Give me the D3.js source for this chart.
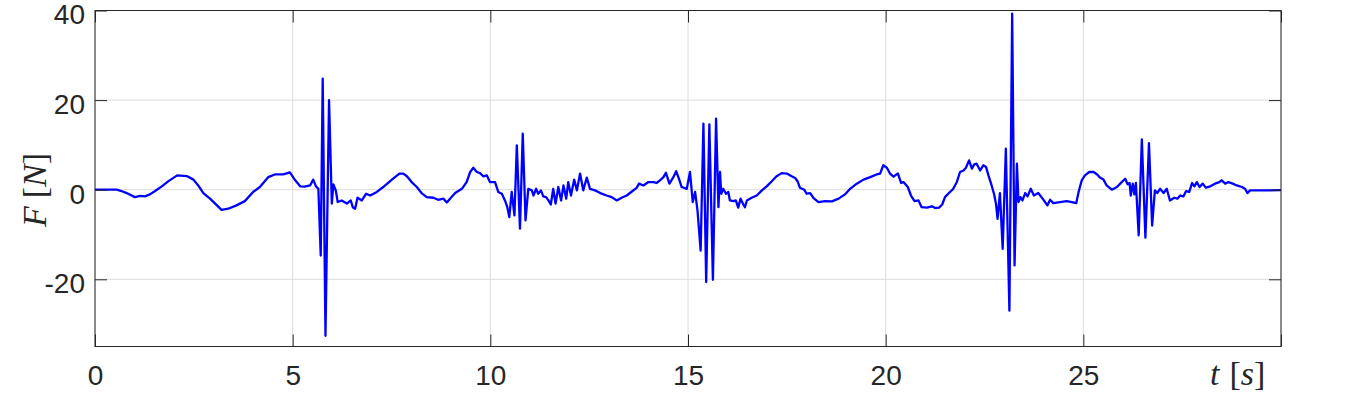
<!DOCTYPE html>
<html>
  <head>
    <meta charset="utf-8">
    <title>F over t</title>
    <style>
      body { margin: 0; background: #fff; }
      .tick text { font-family: "Liberation Sans", Arial, sans-serif; font-size: 28px; fill: #262626; }
      .tick line { stroke: #262626; }
      .grid line { stroke: #dcdcdc; stroke-width: 1; }
      .lbl { font-family: "Liberation Serif", "Times New Roman", serif; font-size: 34px; fill: #262626; }
    </style>
  </head>
  <body>
    <script src="https://d3js.org/d3.v7.min.js"></script>
    <script>

      // signal: time [s] and force [N]
      var time = [0, 0.55, 0.67, 0.80, 1.01, 1.14, 1.26, 1.39, 1.52, 1.69, 1.85, 2.08, 2.32, 2.49, 2.61, 2.74, 2.91, 3.04, 3.20, 3.37,
        3.58, 3.79, 4.00, 4.17, 4.38, 4.55, 4.76, 4.93, 5.04, 5.19, 5.30, 5.44, 5.52, 5.59, 5.65, 5.71, 5.76, 5.83, 5.92, 5.99,
        6.03, 6.09, 6.14, 6.24, 6.37, 6.47, 6.52, 6.58, 6.64, 6.75, 6.86, 6.96, 7.13, 7.29, 7.51, 7.70, 7.80, 7.89, 8.01, 8.14,
        8.26, 8.39, 8.56, 8.68, 8.81, 8.90, 8.98, 9.11, 9.28, 9.40, 9.49, 9.57, 9.66, 9.74, 9.82, 9.91, 9.99, 10.12, 10.20, 10.29,
        10.37, 10.43, 10.48, 10.54, 10.61, 10.67, 10.75, 10.82, 10.89, 10.96, 11.05, 11.09, 11.16, 11.21, 11.28, 11.34, 11.41, 11.47, 11.53, 11.59,
        11.65, 11.72, 11.79, 11.85, 11.92, 11.97, 12.04, 12.12, 12.19, 12.27, 12.35, 12.44, 12.52, 12.65, 12.78, 12.94, 13.07, 13.20, 13.32, 13.45,
        13.58, 13.70, 13.76, 13.87, 14.00, 14.12, 14.21, 14.29, 14.38, 14.44, 14.53, 14.63, 14.70, 14.77, 14.84, 14.97, 15.05, 15.12, 15.18, 15.24,
        15.32, 15.39, 15.46, 15.54, 15.63, 15.71, 15.77, 15.81, 15.84, 15.89, 15.96, 16.02, 16.06, 16.15, 16.21, 16.27, 16.33, 16.40, 16.44, 16.49,
        16.61, 16.74, 16.87, 16.99, 17.12, 17.24, 17.37, 17.50, 17.62, 17.71, 17.77, 17.83, 17.94, 18.00, 18.09, 18.17, 18.30, 18.47, 18.64, 18.81,
        18.97, 19.10, 19.27, 19.44, 19.61, 19.77, 19.86, 19.94, 20.03, 20.11, 20.20, 20.24, 20.31, 20.39, 20.45, 20.56, 20.64, 20.73, 20.83, 20.91,
        21.04, 21.17, 21.25, 21.35, 21.43, 21.50, 21.60, 21.71, 21.80, 21.88, 21.97, 22.03, 22.11, 22.18, 22.24, 22.30, 22.39, 22.47, 22.54, 22.60,
        22.68, 22.74, 22.79, 22.83, 22.89, 22.96, 23.04, 23.13, 23.20, 23.26, 23.32, 23.36, 23.41, 23.46, 23.53, 23.59, 23.67, 23.75, 23.86, 23.97,
        24.09, 24.16, 24.24, 24.41, 24.58, 24.71, 24.82, 24.88, 24.96, 25.04, 25.15, 25.25, 25.35, 25.42, 25.51, 25.59, 25.72, 25.85, 25.97, 26.06,
        26.12, 26.17, 26.20, 26.25, 26.29, 26.33, 26.40, 26.48, 26.57, 26.66, 26.74, 26.81, 26.87, 26.94, 27.03, 27.11, 27.19, 27.30, 27.38, 27.45,
        27.53, 27.60, 27.68, 27.75, 27.81, 27.87, 27.94, 28.02, 28.10, 28.21, 28.33, 28.44, 28.50, 28.59, 28.67, 28.78, 28.88, 29.01, 29.09, 29.15,
        29.22, 29.39, 29.64, 30.0];

      var force = [0, 0, -0.3, -0.75, -1.65, -1.4, -1.5, -1.05, -0.3, 0.75, 1.85, 3.2, 3.05, 2.25, 0.95, -0.75, -2.0, -3.1, -4.5, -4.25,
        -3.5, -2.55, -0.5, 0.6, 2.8, 3.4, 3.4, 3.85, 2.4, 0.75, 0.7, 0.95, 2.25, 0.75, 0.2, -14.7, 24.8, -32.6, 20.0, -3.1,
        1.2, -0.15, -2.75, -2.4, -3.1, -2.4, -3.9, -4.25, -1.8, -2.4, -0.9, -1.3, -0.5, 0.6, 2.25, 3.6, 3.6, 3.0, 1.7, 0.6,
        -0.75, -1.65, -1.8, -2.25, -2.0, -2.85, -2.0, -0.75, 0.2, 1.7, 3.95, 4.9, 3.95, 3.7, 3.0, 3.2, 1.7, 1.7, -0.5, -0.9,
        -2.4, -3.9, -6.1, -0.5, -5.75, 9.9, -8.7, 12.5, -6.85, 0.2, -0.15, -1.3, 0.2, -0.9, -0.15, -1.5, -1.65, -2.4, -3.3, 0.2,
        -3.1, 0.6, -2.4, 0.95, -2.0, 1.7, -1.3, 2.25, -0.15, 3.6, -0.15, 2.7, 0.2, -0.15, -0.75, -1.3, -1.65, -2.4, -1.8, -1.3,
        -0.4, 0.4, 1.35, 0.95, 1.7, 1.7, 1.5, 2.1, 2.8, 3.8, 1.35, 2.8, 4.15, 2.45, 0.6, 0.2, 3.95, -2.75, -0.5, -4.6,
        -13.6, 14.75, -20.6, 14.6, -20.1, 15.85, -3.9, 3.95, -0.9, 0.2, -0.9, -0.5, -2.4, -2.55, -2.4, -4.0, -2.0, -3.3, -3.9, -2.4,
        -1.8, -1.3, -0.15, 0.75, 1.9, 3.0, 3.7, 3.6, 3.0, 2.6, 1.9, 0.45, 0, -0.9, -0.75, -1.8, -2.75, -2.55, -2.6, -2.0,
        -1.05, 0.2, 1.35, 2.25, 2.8, 3.4, 3.6, 5.45, 4.9, 3.6, 2.9, 3.2, 3.6, 1.5, 1.7, 0.6, -1.3, -2.55, -2.4, -3.9,
        -4.0, -3.7, -4.1, -4.0, -3.3, -1.65, -0.75, 0.2, 1.7, 3.95, 4.3, 4.9, 6.55, 4.7, 5.65, 5.8, 4.3, 5.45, 5.05, 3.2,
        0.95, -0.9, -3.1, -6.5, -0.75, -13.2, 9.15, -27.0, 39.3, -16.9, 5.8, -2.75, -1.65, -2.4, -0.75, -1.5, 0.2, -1.3, -0.75, -2.0,
        -3.5, -2.25, -3.0, -2.75, -2.55, -2.75, -3.0, -0.5, 2.1, 3.2, 3.95, 4.0, 3.4, 2.7, 2.25, 0.95, 0, 0.6, 1.7, 2.45,
        1.2, 1.5, -1.3, 1.35, -1.05, 1.5, -10.2, 11.2, -10.7, 10.4, -8.0, -0.15, -0.75, 0.2, -0.75, 0.2, -2.4, -1.8, -2.0, -1.3,
        -1.5, -0.3, -0.5, 1.5, 0.75, 1.7, 0.6, 1.35, 0.45, 0.75, 1.35, 1.7, 2.1, 1.35, 1.7, 1.35, 0.95, 0.6, 0.2, -0.75,
        -0.15, -0.15, -0.15, -0.1];

      var xTicks = [0, 5, 10, 15, 20, 25, 30];
      var xTickLabels = ["0", "5", "10", "15", "20", "25", ""];
      var yTicks = [-20, 0, 20, 40];
      var yTickLabels = ["-20", "0", "20", "40"];

      var margin = {top: 10.5, right: 85, bottom: 55.5, left: 95},
          width = 1366 - margin.left - margin.right,
          height = 402 - margin.top - margin.bottom;

      var x = d3.scaleLinear().domain([0, 30]).range([0, width]);
      var y = d3.scaleLinear().domain([-35, 40]).range([height, 0]);

      var svg = d3.select("body").append("svg")
          .attr("width", 1366)
          .attr("height", 402)
        .append("g")
          .attr("transform", "translate(" + margin.left + "," + margin.top + ")");

      // grid
      var grid = svg.append("g").attr("class", "grid");
      grid.selectAll(".gx").data(xTicks).enter().append("line")
          .attr("x1", function(d) { return x(d); }).attr("x2", function(d) { return x(d); })
          .attr("y1", 0).attr("y2", height);
      grid.selectAll(".gy").data(yTicks).enter().append("line")
          .attr("y1", function(d) { return y(d); }).attr("y2", function(d) { return y(d); })
          .attr("x1", 0).attr("x2", width);

      // the force curve
      var pts = time.map(function(t, i) { return [t, force[i]]; });
      var line = d3.line()
          .x(function(d) { return x(d[0]); })
          .y(function(d) { return y(d[1]); });

      svg.append("path")
          .datum(pts)
          .attr("fill", "none")
          .attr("stroke", "#0000ff")
          .attr("stroke-width", 2.3)
          .attr("stroke-linejoin", "round")
          .attr("d", line);

      // axes, ticks pointing inward on all four sides
      var tl = 12;
      svg.append("g")
          .attr("transform", "translate(0," + height + ")")
          .call(d3.axisBottom(x).tickValues(xTicks).tickSizeInner(-tl).tickSizeOuter(0).tickPadding(19)
            .tickFormat(function(d, i) { return xTickLabels[i]; }));
      svg.append("g")
          .call(d3.axisTop(x).tickValues(xTicks).tickSizeInner(-tl).tickSizeOuter(0).tickFormat(""));
      var yl = svg.append("g")
          .call(d3.axisLeft(y).tickValues(yTicks).tickSizeInner(-tl).tickSizeOuter(0).tickPadding(10)
            .tickFormat(function(d, i) { return yTickLabels[i]; }));
      svg.append("g")
          .attr("transform", "translate(" + width + ",0)")
          .call(d3.axisRight(y).tickValues(yTicks).tickSizeInner(-tl).tickSizeOuter(0).tickFormat(""));

      svg.selectAll(".domain").remove();
      svg.selectAll(".tick text").attr("font-family", null).attr("font-size", null);
      yl.selectAll(".tick text").attr("dy", "0.48em");

      svg.append("rect")
          .attr("width", width).attr("height", height)
          .attr("fill", "none").attr("stroke", "#262626").attr("stroke-width", 1);

      // axis labels
      var xlab = svg.append("text").attr("class", "lbl")
          .attr("x", 1210 - margin.left).attr("y", 385 - margin.top);
      xlab.append("tspan").attr("font-style", "italic").text("t");
      xlab.append("tspan").attr("dx", 10).text("[");
      xlab.append("tspan").attr("font-style", "italic").text("s");
      xlab.append("tspan").text("]");

      var ylab = svg.append("text").attr("class", "lbl")
          .attr("text-anchor", "middle")
          .attr("transform", "translate(" + (46 - margin.left) + "," + (190 - margin.top) + ") rotate(-90)");
      ylab.append("tspan").attr("font-style", "italic").text("F");
      ylab.append("tspan").attr("dx", 8).text("[");
      ylab.append("tspan").attr("font-style", "italic").text("N");
      ylab.append("tspan").text("]");

    </script>
  </body>
</html>
